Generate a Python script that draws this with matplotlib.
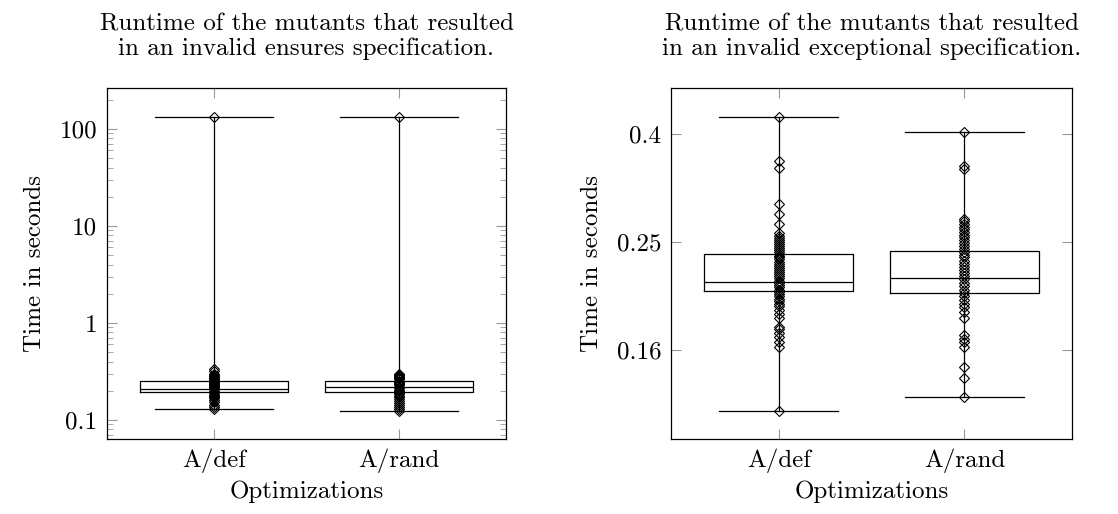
import matplotlib
matplotlib.use("Agg")
import matplotlib.pyplot as plt
from matplotlib.ticker import FixedLocator, NullLocator, LogLocator, FixedFormatter

plt.rcParams["font.family"] = "serif"
plt.rcParams["font.serif"] = ["cmr10", "DejaVu Serif"]
plt.rcParams["mathtext.fontset"] = "cm"
plt.rcParams["axes.formatter.use_mathtext"] = True

categories = ["A/def", "A/rand"]
titles = [
    "Runtime of the mutants that resulted\nin an invalid ensures specification.",
    "Runtime of the mutants that resulted\nin an invalid exceptional specification.",
]

# ensures specification (left panel)
ens_whislo = [0.129, 0.124]
ens_q1 = [0.194, 0.194]
ens_med = [0.209, 0.219]
ens_q3 = [0.252, 0.252]
ens_whishi = [132.0, 132.0]
ens_def_points = [132.0, 0.336, 0.318, 0.300, 0.291, 0.285, 0.279, 0.273, 0.267,
                  0.261, 0.255, 0.249, 0.243, 0.237, 0.231, 0.225, 0.219, 0.213,
                  0.207, 0.201, 0.195, 0.189, 0.183, 0.177, 0.172, 0.168, 0.162,
                  0.153, 0.143, 0.136, 0.130]
ens_rand_points = [132.0, 0.298, 0.290, 0.283, 0.276, 0.269, 0.262, 0.255, 0.248,
                   0.241, 0.234, 0.227, 0.220, 0.213, 0.206, 0.199, 0.192, 0.185,
                   0.178, 0.171, 0.165, 0.158, 0.150, 0.142, 0.136, 0.130, 0.124]

# exceptional specification (right panel)
exc_whislo = [0.122, 0.1295]
exc_q1 = [0.2033, 0.2023]
exc_med = [0.2114, 0.2155]
exc_q3 = [0.2387, 0.2415]
exc_whishi = [0.427, 0.401]
exc_def_points = [0.427, 0.354, 0.344, 0.295, 0.283, 0.271, 0.261, 0.258, 0.255,
                  0.253, 0.251, 0.249, 0.247, 0.245, 0.243, 0.241, 0.239, 0.237,
                  0.235, 0.233, 0.231, 0.229, 0.227, 0.225, 0.223, 0.221, 0.219,
                  0.217, 0.215, 0.213, 0.211, 0.209, 0.207, 0.205, 0.203, 0.201,
                  0.199, 0.197, 0.195, 0.193, 0.191, 0.188, 0.185, 0.1815, 0.175,
                  0.1735, 0.170, 0.1675, 0.164, 0.1606, 0.122]
exc_rand_points = [0.401, 0.347, 0.343, 0.2765, 0.274, 0.271, 0.268, 0.265, 0.262,
                   0.259, 0.256, 0.253, 0.250, 0.247, 0.244, 0.241, 0.238, 0.235,
                   0.232, 0.229, 0.226, 0.223, 0.220, 0.217, 0.214, 0.211, 0.208,
                   0.205, 0.202, 0.199, 0.196, 0.193, 0.190, 0.1865, 0.1815, 0.169,
                   0.166, 0.164, 0.1606, 0.1475, 0.1405, 0.1295]


def make_stats(whislo, q1, med, q3, whishi, points):
    stats = []
    for i in range(len(categories)):
        stats.append({
            "whislo": whislo[i], "q1": q1[i], "med": med[i], "q3": q3[i],
            "whishi": whishi[i], "fliers": points[i], "label": categories[i],
        })
    return stats


fig = plt.figure(figsize=(11.18, 5.14), dpi=100)
ax_l = fig.add_axes([0.0957, 0.1459, 0.3569, 0.6829])
ax_r = fig.add_axes([0.6002, 0.1459, 0.3587, 0.6829])

panels = [
    (ax_l, make_stats(ens_whislo, ens_q1, ens_med, ens_q3, ens_whishi,
                      [ens_def_points, ens_rand_points])),
    (ax_r, make_stats(exc_whislo, exc_q1, exc_med, exc_q3, exc_whishi,
                      [exc_def_points, exc_rand_points])),
]

fs = 18
line = dict(color="black", linewidth=0.9)
for (ax, stats), title in zip(panels, titles):
    ax.set_yscale("log")
    ax.bxp(
        stats,
        positions=[1, 2],
        widths=0.8,
        capwidths=0.64,
        boxprops=line,
        medianprops=line,
        whiskerprops=line,
        capprops=line,
        flierprops=dict(marker="D", markersize=4.6, markerfacecolor="none",
                        markeredgecolor="black", markeredgewidth=0.8,
                        linestyle="none"),
    )
    ax.set_xlim(0.42, 2.58)
    ax.set_xticks([1, 2])
    ax.set_xticklabels(categories)
    ax.set_title(title, fontsize=fs, pad=24, linespacing=1.1)
    ax.set_xlabel("Optimizations", fontsize=fs, labelpad=5)
    ax.set_ylabel("Time in seconds", fontsize=fs, labelpad=10)
    ax.tick_params(which="both", direction="in", top=True, right=True,
                   color="0.6", labelsize=fs)
    ax.tick_params(which="major", length=7, width=0.8, pad=7)
    ax.tick_params(which="minor", length=4, width=0.6)
    for s in ax.spines.values():
        s.set_linewidth(0.9)

# left: full decades
ax_l.set_ylim(0.0637, 264)
ax_l.yaxis.set_major_locator(FixedLocator([0.1, 1, 10, 100]))
ax_l.yaxis.set_major_formatter(FixedFormatter(["0.1", "1", "10", "100"]))
ax_l.yaxis.set_minor_locator(LogLocator(base=10, subs=range(2, 10)))
ax_l.xaxis.set_minor_locator(NullLocator())

# right: ticks every 0.2 decades
ax_r.set_ylim(0.1084, 0.484)
ax_r.yaxis.set_major_locator(FixedLocator([10 ** -0.8, 10 ** -0.6, 10 ** -0.4]))
ax_r.yaxis.set_major_formatter(FixedFormatter(["0.16", "0.25", "0.4"]))
ax_r.yaxis.set_minor_locator(NullLocator())
ax_r.xaxis.set_minor_locator(NullLocator())

fig.savefig("out.png", dpi=100)
